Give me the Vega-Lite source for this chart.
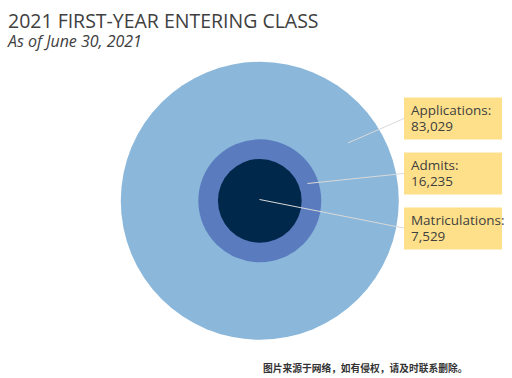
{
  "$schema": "https://vega.github.io/schema/vega-lite/v6.json",
  "autosize": {"type": "none"},
  "padding": {"left": 8, "top": 60, "right": 0, "bottom": 36},
  "width": 503.6,
  "height": 281.6,
  "title": {
    "text": "2021 FIRST-YEAR ENTERING CLASS",
    "subtitle": "As of June 30, 2021",
    "anchor": "start",
    "frame": "group",
    "offset": 9,
    "font": "Open Sans",
    "fontSize": 19.5,
    "fontWeight": "normal",
    "color": "#404040",
    "subtitleFont": "Open Sans",
    "subtitleFontSize": 16,
    "subtitleFontStyle": "italic",
    "subtitleColor": "#404040",
    "subtitlePadding": 1
  },
  "data": {
    "values": [
      {"stage": "Applications", "count": 83029},
      {"stage": "Admits", "count": 16235},
      {"stage": "Matriculations", "count": 7529}
    ]
  },
  "transform": [
    {"calculate": "datum.stage + ':\\n' + format(datum.count, ',')", "as": "label"}
  ],
  "layer": [
    {
      "mark": {"type": "circle", "opacity": 1, "strokeWidth": 0},
      "encoding": {
        "size": {"field": "count", "type": "quantitative", "scale": {"domain": [0, 83029], "range": [0, 77284]}, "legend": null},
        "color": {"field": "stage", "type": "nominal", "scale": {"domain": ["Applications", "Admits", "Matriculations"], "range": ["#8AB7DA", "#5A7CBF", "#00284B"]}, "legend": null}
      }
    },
    {
      "transform": [{"filter": "datum.stage === 'Applications'"}],
      "mark": {"type": "rule", "color": "#D9D9D9", "strokeWidth": 1},
      "encoding": {"x": {"value": 340}, "y": {"value": 83}, "x2": {"value": 396}, "y2": {"value": 58.5}}
    },
    {
      "transform": [{"filter": "datum.stage === 'Admits'"}],
      "mark": {"type": "rule", "color": "#D9D9D9", "strokeWidth": 1},
      "encoding": {"x": {"value": 299.5}, "y": {"value": 123.5}, "x2": {"value": 396}, "y2": {"value": 113.5}}
    },
    {
      "transform": [{"filter": "datum.stage === 'Matriculations'"}],
      "mark": {"type": "rule", "color": "#D9D9D9", "strokeWidth": 1},
      "encoding": {"x": {"value": 251.5}, "y": {"value": 139.5}, "x2": {"value": 398}, "y2": {"value": 168.5}}
    },
    {
      "mark": {"type": "point", "filled": true, "opacity": 1, "strokeWidth": 0, "shape": "M-1,-0.4286L1,-0.4286L1,0.4286L-1,0.4286Z", "size": 9604, "color": "#FFE08A"},
      "encoding": {
        "x": {"value": 445},
        "y": {"field": "stage", "type": "nominal", "sort": null, "scale": {"type": "point", "domain": ["Applications", "Admits", "Matriculations"], "range": [58.5, 168.5], "padding": 0}, "axis": null}
      }
    },
    {
      "mark": {"type": "text", "align": "left", "baseline": "alphabetic", "dy": -3, "lineBreak": "\n", "lineHeight": 16, "font": "Open Sans", "fontSize": 13.5, "color": "#404040"},
      "encoding": {
        "x": {"value": 403},
        "y": {"field": "stage", "type": "nominal", "sort": null, "axis": null},
        "text": {"field": "label"}
      }
    },
    {
      "data": {"values": [{"note": "图片来源于网络，如有侵权，请及时联系删除。"}]},
      "mark": {"type": "text", "align": "left", "baseline": "middle", "font": "Noto Sans CJK SC", "fontSize": 9.75, "fontWeight": "bold", "color": "#333333"},
      "encoding": {"x": {"value": 255}, "y": {"value": 309}, "text": {"field": "note"}}
    }
  ],
  "config": {"view": {"stroke": null}}
}
